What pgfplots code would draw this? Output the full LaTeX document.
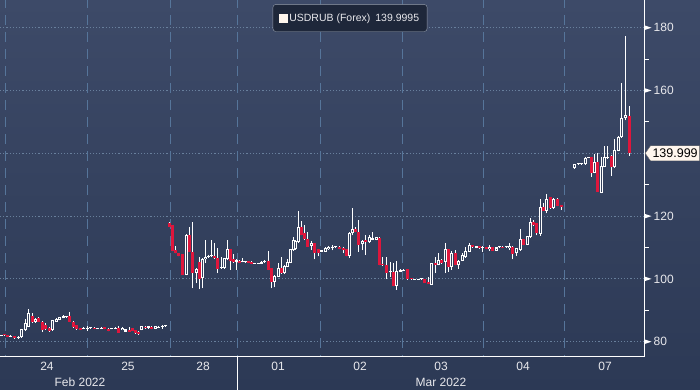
\documentclass[border=0pt]{standalone}
\usepackage{pgfplots}
\pgfplotsset{compat=1.18}
\usepackage{pgfplotstable}
\usepackage{fontspec}
\setmainfont{Liberation Sans}
\usetikzlibrary{shapes.symbols}
\definecolor{bgtop}{RGB}{61,74,104}
\definecolor{bgbot}{RGB}{44,57,85}
\definecolor{gridv}{RGB}{86,117,154}
\definecolor{gridh}{RGB}{104,127,156}
\definecolor{candlered}{RGB}{222,22,60}
\definecolor{hollow}{RGB}{52,65,93}
\definecolor{tickc}{RGB}{232,232,236}
\definecolor{cream}{RGB}{255,246,238}
\definecolor{legbg}{RGB}{30,39,58}
\definecolor{legdraw}{RGB}{150,158,172}

\pgfplotstableread{
x o h l c
1 81.9 82.2 81.8 82.1
4 82.1 82.3 81.9 82.0
7 82.0 82.1 81.4 81.5
10.5 81.5 82.2 81.4 81.8
14 81.8 81.9 81.0 81.1
18 81.1 81.7 81.0 81.5
21.5 81.4 84.0 81.2 83.9
25 83.7 87.1 83.5 86.1
28.5 84.8 90.4 84.6 89.0
32 88.3 89.0 86.0 86.2
35.5 86.2 87.4 86.0 87.1
38.5 87.7 88.0 86.2 86.3
42 86.3 86.5 83.2 83.7
45.5 85.3 85.8 83.8 84.0
49 84.5 84.6 83.2 83.4
52.5 83.7 87.0 83.5 86.9
56 86.4 87.5 86.3 87.2
59.5 86.9 88.0 86.8 87.9
63 87.5 88.5 87.4 88.2
66 87.8 88.2 87.6 88.1
69.5 88.2 89.6 86.3 86.4
73 86.4 86.6 84.5 84.6
76.5 85.3 85.4 83.8 83.9
80 84.3 84.4 83.7 83.8
83.5 84.0 84.6 83.9 84.3
87 84.2 85.0 83.5 84.3
90.5 84.3 84.5 84.1 84.3
94 84.5 84.6 83.9 84.0
97.5 84.2 84.5 84.1 84.4
101 84.1 84.6 84.0 84.5
104.5 84.6 84.7 83.9 84.0
108 84.2 84.3 83.3 83.4
111.5 84.0 84.3 83.9 84.2
115 84.1 84.7 84.0 84.4
118.5 84.3 85.1 82.8 82.9
122 83.7 84.6 83.6 84.5
125.5 83.2 84.0 83.1 83.9
129 83.8 84.6 83.1 83.2
132 84.4 84.5 83.3 83.4
135 83.7 83.8 82.6 82.7
138 83.2 83.3 82.2 82.3
141.5 83.7 85.1 83.6 85.0
145 84.8 84.9 84.2 84.3
148 84.3 85.1 84.2 85.0
151.5 84.8 84.9 83.9 84.0
155 84.1 85.1 84.0 85.0
158.5 84.5 84.9 84.4 84.8
162 84.8 85.4 84.2 84.9
165.5 84.9 85.3 84.7 85.0
169 117.9 118.2 116.5 116.6
172 117.2 117.3 108.8 108.9
175.5 109.2 110.5 108.1 108.2
178.5 108.2 108.3 107.2 107.3
182 107.9 108.0 101.2 101.3
186 101.3 114.2 101.1 114.0
189 114.0 116.6 108.6 108.7
192.5 108.7 118.0 97.0 101.8
196 102.0 103.5 98.6 103.3
199 105.5 106.9 96.7 99.9
202.5 100.2 106.5 97.0 106.2
205.5 106.2 112.3 105.0 107.1
208.5 107.1 107.6 106.8 107.3
211.5 107.2 112.4 106.9 107.6
214.5 107.3 111.3 106.4 106.5
217.5 106.5 109.7 101.8 103.3
221 103.4 106.9 103.3 103.9
224 103.4 106.8 103.3 106.5
227 106.2 112.3 106.1 109.4
230 109.4 109.6 102.9 105.8
233 106.2 107.9 105.2 105.3
236 105.5 106.3 102.9 106.0
239 105.8 105.9 105.1 105.2
242 105.4 106.8 105.3 105.6
245 105.3 105.7 105.2 105.6
248 105.6 105.8 105.0 105.2
251 105.5 105.6 104.6 104.7
254.5 104.9 105.1 104.8 105.0
258 104.9 105.1 104.8 105.0
261.5 104.8 105.6 104.7 105.5
264.5 105.3 106.1 105.2 105.8
268 105.7 109.0 102.8 102.9
271 103.4 103.6 97.0 99.1
274.5 99.1 101.1 97.3 100.9
278 100.7 105.0 100.5 103.4
281 103.4 107.1 101.6 101.8
284 101.8 104.3 101.6 104.1
287 103.9 106.3 103.8 105.5
290 105.2 109.6 105.0 109.4
293 109.2 113.5 109.0 112.4
295.5 109.5 112.3 109.3 112.0
298.5 111.8 121.6 111.5 116.4
301.5 116.4 118.5 113.9 114.0
304.5 114.5 117.2 112.5 112.6
307.5 112.6 115.0 110.2 110.3
311 110.5 112.2 109.3 111.5
314 111.3 111.5 106.2 108.3
318 109.4 109.5 107.2 108.3
321.5 108.6 109.3 108.5 109.2
325 108.7 110.0 108.6 109.7
328.5 109.4 110.4 109.3 110.2
332 109.8 110.8 109.1 110.2
335.5 110.1 110.2 110.0 110.1
339 110.3 110.4 109.4 109.5
343 109.9 110.0 108.2 109.2
346 109.5 109.6 107.2 107.3
349 107.3 114.9 106.7 114.7
352 114.5 122.5 113.9 115.8
355.5 115.8 116.6 114.9 115.0
358.5 115.0 118.8 108.7 110.8
362 111.0 112.3 109.2 112.2
365 112.4 114.1 107.7 111.6
369 111.6 114.0 111.5 113.2
372.5 112.4 114.8 112.3 112.9
376.5 112.4 113.5 112.3 113.3
379.5 112.9 113.5 104.3 104.4
382.5 104.9 106.9 104.2 104.3
386.5 104.4 106.9 99.9 101.8
390 102.1 105.5 100.7 102.3
393 102.3 105.2 97.6 97.7
396.5 97.7 105.7 96.5 102.6
400 102.3 103.0 102.2 102.9
403 102.6 103.1 102.5 102.9
407 103.0 103.2 99.8 99.9
411 100.3 100.4 99.8 99.9
414.5 99.8 100.0 99.7 99.9
418 99.8 100.0 99.7 99.9
421.5 99.9 100.4 99.8 100.2
424.5 99.9 100.0 98.7 98.8
428 99.1 100.6 98.3 98.4
431.5 98.0 105.1 97.9 105.0
435 105.2 106.9 101.8 104.3
438.5 104.4 108.3 104.3 106.0
441.5 106.0 106.2 104.9 105.0
445 105.5 111.5 101.8 109.4
448.5 109.4 109.6 102.3 103.9
451.5 103.9 109.0 102.9 108.3
455 108.1 109.2 104.3 104.4
458.5 104.4 105.9 103.3 105.8
462 105.8 108.2 105.7 107.5
465 106.9 110.3 106.8 109.0
469 108.7 111.3 108.6 110.8
472 110.8 110.9 109.9 110.0
476 109.8 110.6 109.7 110.5
479 110.5 110.6 109.6 109.7
482.5 109.9 110.5 108.6 110.1
486 110.1 110.2 109.4 109.5
489 109.5 110.8 109.0 110.3
492.5 110.0 110.1 108.9 109.0
496 109.0 110.1 108.9 110.0
499 110.0 110.1 109.9 110.0
502.5 110.3 110.4 109.7 109.8
506 110.0 110.2 109.9 110.1
509.5 109.8 111.3 109.2 110.6
512.5 110.3 110.5 106.2 107.9
516 108.1 109.9 107.3 109.7
520 109.2 115.8 109.0 112.6
523 112.6 112.7 110.7 110.8
527 110.8 113.8 110.7 113.7
530 113.5 119.3 113.0 118.2
533 118.2 118.6 117.0 117.1
536 117.7 117.8 113.9 114.5
540 114.3 125.3 113.7 122.8
543 123.0 124.1 121.6 121.7
546.5 121.7 127.0 120.9 125.3
550.5 126.0 126.1 122.4 122.5
553.5 122.5 125.7 122.4 125.6
557 125.6 125.7 123.1 123.2
561 123.5 123.6 121.9 123.0
574 135.2 136.6 135.1 136.5
578 136.5 136.6 136.4 136.5
581.5 136.5 136.6 136.4 136.6
585 136.5 138.7 136.4 138.6
588 138.6 138.9 138.5 138.7
591 138.7 138.8 132.6 133.8
594.5 133.8 139.8 133.6 137.3
597.5 137.3 140.2 127.6 127.8
601.5 127.5 138.9 127.2 135.9
604.5 135.7 142.3 135.5 138.7
607.5 138.4 142.3 138.2 138.9
611 139.1 139.3 132.8 135.5
614.5 135.5 144.4 135.3 141.1
618 140.8 145.6 140.6 145.3
621.5 145.1 162.3 145.0 151.1
625.5 151.1 177.4 150.5 152.2
629 152.0 155.1 139.1 140.0
}\candles

\begin{document}
\begin{tikzpicture}
\useasboundingbox (0,-33bp) rectangle (700bp,357bp);
\shade[top color=bgtop, bottom color=bgbot] (0,-33bp) rectangle (700bp,357bp);
% grid (beneath the candles): horizontal dotted at 80..180, vertical dashed at day breaks
\foreach \yy in {15.29,78.10,140.90,203.70,266.50,329.31}{
  \draw[gridh, line width=0.8bp, dash pattern=on 1.2bp off 2bp] (0,\yy bp) -- (644bp,\yy bp);
}
\foreach \xx in {5,87,170,237,320,402,483,564}{
  \draw[gridv, line width=1bp, dash pattern=on 10bp off 7bp, dash phase=2bp] (\xx bp,357bp) -- (\xx bp,0);
}
\begin{axis}[
  at={(0,0)}, anchor=south west, scale only axis,
  width=644bp, height=357bp,
  xmin=0, xmax=644, ymin=75.13, ymax=188.82,
  axis x line*=bottom, axis y line*=right,
  axis line style={white, line width=1bp},
  clip mode=individual,
  /pgf/number format/assume math mode=true,
  ticklabel style={font=\fontsize{12bp}{14bp}\selectfont, text=tickc},
  xtick={47,128,203,278,360,441,523,605},
  xticklabels={24,25,28,01,02,03,04,07},
  xtick style={draw=none},
  xticklabel style={anchor=north, inner sep=0pt, yshift=-5.4bp},
  ytick={80,100,120,160,180},
  major tick length=0pt,
  ytick style={draw=none},
  yticklabel style={anchor=west, inner sep=0pt, xshift=9.5bp},
  legend style={at={(0.5435,0.9496)}, anchor=center, fill=legbg, draw=legdraw,
    rounded corners=3bp, inner xsep=6bp, inner ysep=7bp,
    font=\fontsize{10.5bp}{12bp}\selectfont, text=tickc},
  legend cell align=left,
]
\addlegendimage{legend image code/.code={\fill[cream, sharp corners] (0bp,-4bp) rectangle (8bp,4bp);}}
\addlegendentry{USDRUB (Forex)\hspace{5bp}139.9995}
% wicks
\addplot[forget plot, draw=none, mark=none,
  error bars/.cd, y dir=plus, y explicit, error mark=none,
  error bar style={draw=white, line width=0.9bp, solid}]
  table[x=x, y=l, y error expr=\thisrow{h}-\thisrow{l}] {\candles};
% up bodies (hollow)
\addplot[forget plot, draw=none, mark=none,
  error bars/.cd, y dir=plus, y explicit, error mark=none,
  error bar style={draw=white, line width=3bp, line cap=butt, solid}]
  table[x=x, y expr={ifthenelse(\thisrow{c}>=\thisrow{o},\thisrow{o},0)},
        y error expr={max(\thisrow{c}-\thisrow{o},0.32)}] {\candles};
\addplot[forget plot, draw=none, mark=none,
  error bars/.cd, y dir=plus, y explicit, error mark=none,
  error bar style={draw=hollow, line width=1bp, line cap=butt, solid}]
  table[x=x, y expr={ifthenelse(\thisrow{c}-\thisrow{o}>0.7,\thisrow{o}+0.32,0)},
        y error expr={max(\thisrow{c}-\thisrow{o}-0.64,0)}] {\candles};
% down bodies (filled red)
\addplot[forget plot, draw=none, mark=none,
  error bars/.cd, y dir=plus, y explicit, error mark=none,
  error bar style={draw=candlered, line width=3bp, line cap=butt, solid}]
  table[x=x, y expr={ifthenelse(\thisrow{c}<\thisrow{o},\thisrow{c},0)},
        y error expr={max(\thisrow{o}-\thisrow{c},0.32)}] {\candles};
\end{axis}
% right-axis tick flags and minor ticks
\foreach \yy in {15.29,78.10,140.90,266.50,329.31}{
  \fill[white] (644bp,\yy bp-2.5bp) -- (651.5bp,\yy bp) -- (644bp,\yy bp+2.5bp) -- cycle;
}
\foreach \yy in {46.69,109.50,172.30,235.10,297.90}{
  \draw[white, line width=0.9bp] (644bp,\yy bp) -- (648.5bp,\yy bp);
}
% month separator and labels
\draw[white, line width=1bp] (237bp,0) -- (237bp,-33bp);
\node[font=\fontsize{12bp}{14bp}\selectfont, text=tickc] at (80bp,-25bp) {Feb 2022};
\node[font=\fontsize{12bp}{14bp}\selectfont, text=tickc] at (441bp,-25bp) {Mar 2022};
% last price callout
\node[shape=signal, signal to=west, signal pointer angle=110, fill=cream, draw=black!60, line width=0.4bp,
  anchor=west, inner xsep=2bp, inner ysep=1bp, minimum height=15bp,
  font=\fontsize{12.5bp}{14bp}\selectfont, text=black] at (645bp,203.70bp) {139.999};
\end{tikzpicture}
\end{document}
